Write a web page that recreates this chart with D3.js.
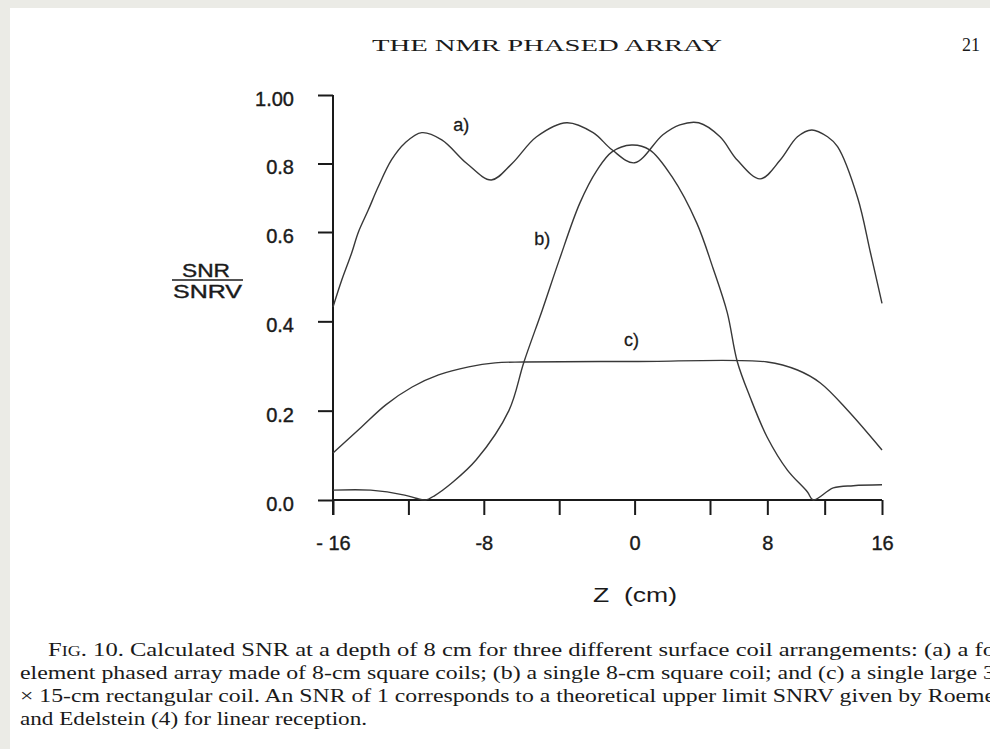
<!DOCTYPE html>
<html><head><meta charset="utf-8">
<script src="https://cdn.jsdelivr.net/npm/d3@7"></script>
<style>body{margin:0;background:#ebebe6;}svg{display:block;}</style>
</head><body>
<svg id="c" width="990" height="749"></svg>
<script>
// ---- data ----
const zA = [-16, -15.54, -15.01, -14.66, -14.13, -13.6, -12.89, -12.18, -11.29, -10.23, -8.9, -7.6, -6.5, -5.2, -3.6, -2.2, -1.2, 0, 1.5, 2.4, 3.4, 4.7, 5.9, 7.5, 8.9, 10.1, 11.1, 12.2, 12.9, 14.3, 15.2, 16];
const vA = [0.432, 0.492, 0.553, 0.599, 0.664, 0.732, 0.811, 0.860, 0.890, 0.869, 0.80, 0.752, 0.80, 0.878, 0.919, 0.89, 0.84, 0.802, 0.884, 0.913, 0.919, 0.878, 0.81, 0.755, 0.81, 0.878, 0.898, 0.878, 0.849, 0.70, 0.553, 0.44];
const zB = [-16, -14, -12.2, -11.6, -11.1, -10.6, -9.7, -8.4, -6.67, -5.87, -4.9, -4.0, -2.9, -2.0, -1.2, -0.16, 0.8, 2.0, 3.3, 4.2, 5.2, 5.9, 6.8, 8.0, 9.4, 10.8, 11.2, 12.6, 14, 16];
const vB = [0.022, 0.022, 0.011, 0.004, 0.0, 0.01, 0.038, 0.09, 0.20, 0.309, 0.425, 0.537, 0.685, 0.78, 0.834, 0.854, 0.84, 0.76, 0.626, 0.52, 0.42, 0.31, 0.23, 0.14, 0.067, 0.018, 0.0, 0.027, 0.032, 0.034];
const zC = [-16, -14.5, -13.2, -11.8, -10.4, -8.8, -7.4, -5.9, 0, 8.0, 10.1, 11.7, 13.6, 16];
const vC = [0.105, 0.163, 0.213, 0.253, 0.28, 0.298, 0.307, 0.309, 0.31, 0.309, 0.291, 0.262, 0.201, 0.112];
const seriesNames = ["a)", "b)", "c)"];
const labelZ = [-9.2, -4.9, -0.16];
const labelV = [0.895, 0.571, 0.345];
const xTicks = [-16, -12, -8, -4, 0, 4, 8, 12, 16];
const xTickLabels = {"-16": "- 16", "-8": "-8", "0": "0", "8": "8", "16": "16"};
const yTicks = [0, 0.2, 0.4, 0.6, 0.8, 1.0];
const yTickLabels = ["0.0", "0.2", "0.4", "0.6", "0.8", "1.00"];
const xTitle = "Z  (cm)";
const yTitleTop = "SNR", yTitleBottom = "SNRV";
const header = "THE NMR PHASED ARRAY", pageNo = "21";
const caption = [
  "10. Calculated SNR at a depth of 8 cm for three different surface coil arrangements: (a) a fo",
  "element phased array made of 8-cm square coils; (b) a single 8-cm square coil; and (c) a single large 3",
  "\u00d7 15-cm rectangular coil. An SNR of 1 corresponds to a theoretical upper limit SNRV given by Roeme",
  "and Edelstein (4) for linear reception."
];

// ---- drawing ----
const svg = d3.select("#c");
svg.append("rect").attr("x", 10).attr("y", 8).attr("width", 990).attr("height", 760).attr("fill", "#fff");

// the scanned figure is unevenly scaled, so piecewise-linear scales
const x = d3.scaleLinear().domain([-16, 4, 16]).range([333, 710, 882]);
const y = d3.scaleLinear().domain([0, 0.6, 1.0]).range([500, 232, 95]);

const sans = "'Liberation Sans', Arial, sans-serif";
const serif = "'Liberation Serif', 'Times New Roman', serif";
const ink = "#1a1a1a";

// axes
const xAxis = d3.axisBottom(x).tickValues(xTicks).tickSize(15).tickPadding(21)
  .tickFormat(d => xTickLabels[String(d)] || "");
const gx = svg.append("g").attr("transform", `translate(0,${y(0)})`).call(xAxis);
gx.select(".domain").remove();
const yAxis = d3.axisLeft(y).tickValues(yTicks).tickSize(15).tickPadding(24)
  .tickFormat((d, i) => yTickLabels[i]);
const gy = svg.append("g").attr("transform", `translate(${x(-16)},0)`).call(yAxis);
gy.select(".domain").remove();
[gx, gy].forEach(g => {
  g.selectAll(".tick line").attr("stroke", ink).attr("stroke-width", 2);
  g.selectAll("text").attr("fill", ink).attr("stroke", ink).attr("stroke-width", 0.4)
    .style("font-family", sans).style("font-size", "20px");
});
gy.selectAll("text").attr("dy", "0.52em");

// axis lines
svg.append("line").attr("x1", x(-16)).attr("x2", x(16)).attr("y1", y(0)).attr("y2", y(0))
  .attr("stroke", ink).attr("stroke-width", 2);
svg.append("line").attr("x1", x(-16)).attr("x2", x(-16)).attr("y1", y(1)).attr("y2", y(0) + 15)
  .attr("stroke", ink).attr("stroke-width", 2);

// curves
const series = [[zA, vA], [zB, vB], [zC, vC]];
const line = d3.line().x(d => x(d[0])).y(d => y(d[1])).curve(d3.curveCatmullRom.alpha(0.5));
series.forEach(([zs, vs]) => {
  svg.append("path").datum(zs.map((z, i) => [z, vs[i]]))
    .attr("d", line).attr("fill", "none").attr("stroke", "#383838").attr("stroke-width", 1.4);
});
seriesNames.forEach((n, i) => {
  svg.append("text").attr("x", x(labelZ[i])).attr("y", y(labelV[i])).attr("text-anchor", "middle")
    .style("font-family", sans).style("font-size", "18px").attr("fill", ink)
    .attr("stroke", ink).attr("stroke-width", 0.3).text(n);
});

// axis titles
svg.append("text").attr("x", 593).attr("y", 602).attr("textLength", 84).attr("lengthAdjust", "spacingAndGlyphs")
  .style("font-family", sans).style("font-size", "20px").attr("fill", ink)
  .attr("xml:space", "preserve").style("white-space", "pre").text(xTitle);
svg.append("text").attr("x", 182).attr("y", 277).attr("textLength", 48).attr("lengthAdjust", "spacingAndGlyphs")
  .style("font-family", sans).style("font-size", "19px").attr("fill", ink)
  .attr("stroke", ink).attr("stroke-width", 0.4).text(yTitleTop);
svg.append("line").attr("x1", 172).attr("x2", 243).attr("y1", 280).attr("y2", 280)
  .attr("stroke", ink).attr("stroke-width", 1.6);
svg.append("text").attr("x", 173).attr("y", 298).attr("textLength", 69).attr("lengthAdjust", "spacingAndGlyphs")
  .style("font-family", sans).style("font-size", "19px").attr("fill", ink)
  .attr("stroke", ink).attr("stroke-width", 0.4).text(yTitleBottom);

// page header
svg.append("text").attr("x", 372).attr("y", 51).attr("textLength", 350).attr("lengthAdjust", "spacingAndGlyphs")
  .style("font-family", serif).style("font-size", "16px").attr("fill", ink).text(header);
svg.append("text").attr("x", 962).attr("y", 51)
  .style("font-family", serif).style("font-size", "18px").attr("fill", ink).text(pageNo);

// caption
const capStarts = [48, 20, 20, 20];
const capEnds = [995, 995, 995, 367];
const capBase = [656, 679, 702, 725];
caption.forEach((t, i) => {
  const tx = svg.append("text").attr("x", capStarts[i]).attr("y", capBase[i])
    .attr("textLength", capEnds[i] - capStarts[i]).attr("lengthAdjust", "spacingAndGlyphs")
    .style("font-family", serif).style("font-size", "19px").attr("fill", ink);
  if (i === 0) {
    tx.append("tspan").text("F");
    tx.append("tspan").style("font-size", "14px").text("IG");
    tx.append("tspan").text(". " + t);
  } else tx.text(t);
});
</script>
</body></html>
